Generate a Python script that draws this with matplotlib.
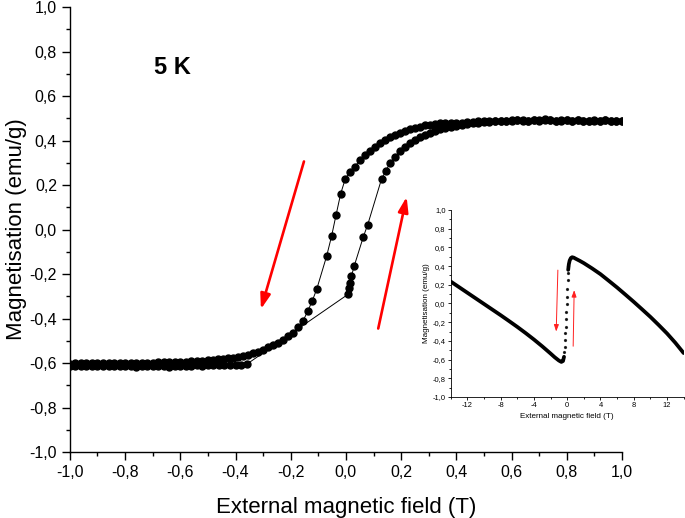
import numpy as np
import matplotlib
matplotlib.use("Agg")
import matplotlib.pyplot as plt
from matplotlib.ticker import MultipleLocator, FuncFormatter

plt.rcParams['font.family'] = ['Liberation Sans', 'DejaVu Sans']

# ---- main loop at 5 K: field sweep down (+1 -> -1 T) ----
field_down = [1.00, 0.98, 0.96, 0.94, 0.92, 0.90, 0.88, 0.86, 0.84, 0.82,
              0.80, 0.78, 0.76, 0.74, 0.72, 0.70, 0.68, 0.66, 0.64, 0.62,
              0.60, 0.58, 0.56, 0.54, 0.52, 0.50, 0.48, 0.46, 0.44, 0.42,
              0.40, 0.38, 0.36, 0.34, 0.322, 0.304, 0.286, 0.268, 0.250, 0.232,
              0.214, 0.196, 0.178, 0.159, 0.141, 0.123, 0.105, 0.087, 0.069, 0.051,
              0.033, 0.014, -0.002, -0.019, -0.036, -0.052, -0.070, -0.106, -0.122, -0.138,
              -0.155, -0.173, -0.191, -0.209, -0.227, -0.245, -0.263, -0.281, -0.300, -0.318,
              -0.336, -0.354, -0.372, -0.390, -0.408, -0.426, -0.444, -0.462, -0.480, -0.50,
              -0.52, -0.54, -0.56, -0.58, -0.60, -0.62, -0.64, -0.66, -0.68, -0.70,
              -0.72, -0.74, -0.76, -0.78, -0.80, -0.82, -0.84, -0.86, -0.88, -0.90,
              -0.92, -0.94, -0.96, -0.98, -1.00]
mag_down = [0.488, 0.490, 0.487, 0.491, 0.489, 0.492, 0.488, 0.490, 0.493, 0.489,
            0.491, 0.494, 0.490, 0.492, 0.495, 0.491, 0.493, 0.490, 0.492, 0.494,
            0.491, 0.489, 0.490, 0.488, 0.487, 0.488, 0.486, 0.484, 0.483, 0.481,
            0.480, 0.479, 0.478, 0.477, 0.476, 0.472, 0.468, 0.462, 0.458, 0.452,
            0.445, 0.436, 0.425, 0.415, 0.403, 0.388, 0.373, 0.355, 0.336, 0.313,
            0.283, 0.257, 0.229, 0.161, 0.064, -0.030, -0.120, -0.269, -0.321, -0.366,
            -0.410, -0.440, -0.463, -0.480, -0.496, -0.508, -0.520, -0.530, -0.540, -0.549,
            -0.557, -0.564, -0.569, -0.573, -0.576, -0.579, -0.582, -0.584, -0.586, -0.588,
            -0.590, -0.592, -0.593, -0.594, -0.595, -0.596, -0.596, -0.597, -0.597, -0.598,
            -0.598, -0.599, -0.598, -0.600, -0.599, -0.600, -0.601, -0.600, -0.601, -0.600,
            -0.602, -0.601, -0.602, -0.601, -0.603]

# ---- field sweep up (-1 -> +1 T) ----
field_up = [-1.00, -0.98, -0.96, -0.94, -0.92, -0.90, -0.88, -0.86, -0.84, -0.82,
            -0.80, -0.78, -0.76, -0.74, -0.72, -0.70, -0.68, -0.66, -0.64, -0.62,
            -0.60, -0.58, -0.56, -0.54, -0.52, -0.50, -0.48, -0.46, -0.44, -0.42,
            -0.40, -0.38, -0.36,
            0.008, 0.012, 0.014, 0.020, 0.030, 0.063, 0.079, 0.129, 0.145, 0.159,
            0.178, 0.196, 0.214, 0.232, 0.250, 0.268, 0.286, 0.304, 0.322, 0.34,
            0.36, 0.38, 0.40, 0.42, 0.44, 0.46, 0.48, 0.50, 0.52, 0.54,
            0.56, 0.58, 0.60, 0.62, 0.64, 0.66, 0.68, 0.70, 0.72, 0.74,
            0.76, 0.78, 0.80, 0.82, 0.84, 0.86, 0.88, 0.90, 0.92, 0.94,
            0.96, 0.98, 1.00]
mag_up = [-0.612, -0.614, -0.613, -0.615, -0.613, -0.614, -0.612, -0.615, -0.614, -0.613,
          -0.615, -0.614, -0.616, -0.614, -0.615, -0.613, -0.615, -0.614, -0.616, -0.614,
          -0.615, -0.613, -0.612, -0.611, -0.612, -0.610, -0.611, -0.609, -0.610, -0.608,
          -0.609, -0.607, -0.606,
          -0.291, -0.261, -0.242, -0.209, -0.164, -0.033, 0.022, 0.227, 0.264, 0.298,
          0.328, 0.351, 0.370, 0.388, 0.403, 0.415, 0.425, 0.436, 0.445, 0.452,
          0.458, 0.463, 0.467, 0.471, 0.474, 0.477, 0.480, 0.482, 0.484, 0.486,
          0.487, 0.488, 0.489, 0.491, 0.488, 0.490, 0.492, 0.489, 0.491, 0.493,
          0.490, 0.488, 0.491, 0.489, 0.492, 0.490, 0.487, 0.490, 0.488, 0.491,
          0.489, 0.487, 0.490]

# ---- inset: full sweep -14 .. 14 T ----
inset_left_field = [-14, -13, -12, -11, -10, -9, -8, -7, -6, -5, -4, -3, -2,
                    -1.5, -1.0, -0.7, -0.5, -0.38]
inset_left_mag = [0.235, 0.175, 0.115, 0.055, -0.005, -0.065, -0.125, -0.187, -0.250,
                  -0.316, -0.385, -0.458, -0.535, -0.575, -0.610, -0.625, -0.615, -0.57]
inset_steep_field = [-0.34, -0.30, -0.26, -0.22, -0.18, -0.14, -0.10, -0.06, -0.02,
                     0.02, 0.06, 0.10, 0.14]
inset_steep_mag = [-0.52, -0.46, -0.39, -0.32, -0.25, -0.17, -0.09, -0.01, 0.07,
                   0.16, 0.25, 0.33, 0.40]
inset_right_field = [0.12, 0.2, 0.3, 0.45, 0.6, 0.8, 1.0, 1.5, 2, 3, 4, 5, 6, 7, 8, 9,
                     10, 11, 12, 13, 14]
inset_right_mag = [0.36, 0.42, 0.46, 0.487, 0.495, 0.490, 0.480, 0.457, 0.432, 0.375,
                   0.314, 0.243, 0.171, 0.095, 0.018, -0.062, -0.143, -0.230, -0.320,
                   -0.420, -0.530]


def comma_fmt(v, pos):
    return f"{v:.1f}".replace('.', ',')


fig = plt.figure(figsize=(6.85, 5.18), dpi=100)
ax = fig.add_axes([0.102, 0.1274, 0.806, 0.859])

# whole loop drawn as one connected trace
ax.plot(field_down + field_up, mag_down + mag_up, '-o', color='black',
        lw=0.7, ms=5.0, mec='black', mfc='black', zorder=3)

ax.set_xlim(-1.0, 1.0)
ax.set_ylim(-1.0, 1.0)
ax.xaxis.set_major_locator(MultipleLocator(0.2))
ax.xaxis.set_minor_locator(MultipleLocator(0.1))
ax.yaxis.set_major_locator(MultipleLocator(0.2))
ax.yaxis.set_minor_locator(MultipleLocator(0.1))
ax.xaxis.set_major_formatter(FuncFormatter(comma_fmt))
ax.yaxis.set_major_formatter(FuncFormatter(comma_fmt))
for s in ['top', 'right']:
    ax.spines[s].set_visible(False)
for s in ['left', 'bottom']:
    ax.spines[s].set_linewidth(1.0)
ax.tick_params(which='major', direction='out', length=5.8, width=1.0, labelsize=11.5)
ax.tick_params(which='minor', direction='out', length=3.0, width=1.0)
ax.set_xlabel('External magnetic field (T)', fontsize=16, labelpad=12)
ax.set_ylabel('Magnetisation (emu/g)', fontsize=16, labelpad=2)

ax.text(-0.63, 0.73, '5 K', fontsize=17, fontweight='bold', ha='center', va='center')

# sweep direction arrows
red_arrow = dict(arrowstyle='-|>,head_length=0.6,head_width=0.2', color='#ff0000',
                 lw=1.9, mutation_scale=15, shrinkA=0, shrinkB=0)
ax.annotate('', xy=(-0.308, -0.358), xytext=(-0.152, 0.306), arrowprops=red_arrow)
ax.annotate('', xy=(0.22, 0.147), xytext=(0.117, -0.445), arrowprops=red_arrow)

# ---- inset ----
axi = fig.add_axes([0.658, 0.2336, 0.340, 0.361])
axi.plot(inset_left_field, inset_left_mag, '-', color='black', lw=2.7,
         solid_capstyle='round')
axi.plot(inset_right_field, inset_right_mag, '-', color='black', lw=2.7,
         solid_capstyle='round')
axi.plot(inset_steep_field, inset_steep_mag, 'o', color='black', ms=1.3, alpha=0.8)
axi.set_xlim(-14, 14)
axi.set_ylim(-1.0, 1.0)
axi.xaxis.set_minor_locator(MultipleLocator(2))
axi.set_xticks([-12, -8, -4, 0, 4, 8, 12])
axi.yaxis.set_major_locator(MultipleLocator(0.2))
axi.yaxis.set_minor_locator(MultipleLocator(0.1))
axi.yaxis.set_major_formatter(FuncFormatter(comma_fmt))
axi.xaxis.set_major_formatter(FuncFormatter(lambda v, p: f"{v:.0f}"))
for s in ['top', 'right']:
    axi.spines[s].set_visible(False)
for s in ['left', 'bottom']:
    axi.spines[s].set_linewidth(0.6)
axi.tick_params(which='major', direction='out', length=2.2, width=0.6, labelsize=5.4, pad=1.5)
axi.tick_params(which='minor', direction='out', length=1.4, width=0.6)
axi.set_xlabel('External magnetic field (T)', fontsize=5.8, labelpad=3)
axi.set_ylabel('Magnetisation (emu/g)', fontsize=5.8, labelpad=2)

thin_arrow = dict(arrowstyle='-|>,head_length=0.5,head_width=0.18', color='#ff2020',
                  lw=0.7, mutation_scale=8, shrinkA=0, shrinkB=0)
axi.annotate('', xy=(-1.32, -0.30), xytext=(-1.12, 0.357), arrowprops=thin_arrow)
axi.annotate('', xy=(0.84, 0.143), xytext=(0.72, -0.457), arrowprops=thin_arrow)

fig.savefig('out.png', dpi=100)
